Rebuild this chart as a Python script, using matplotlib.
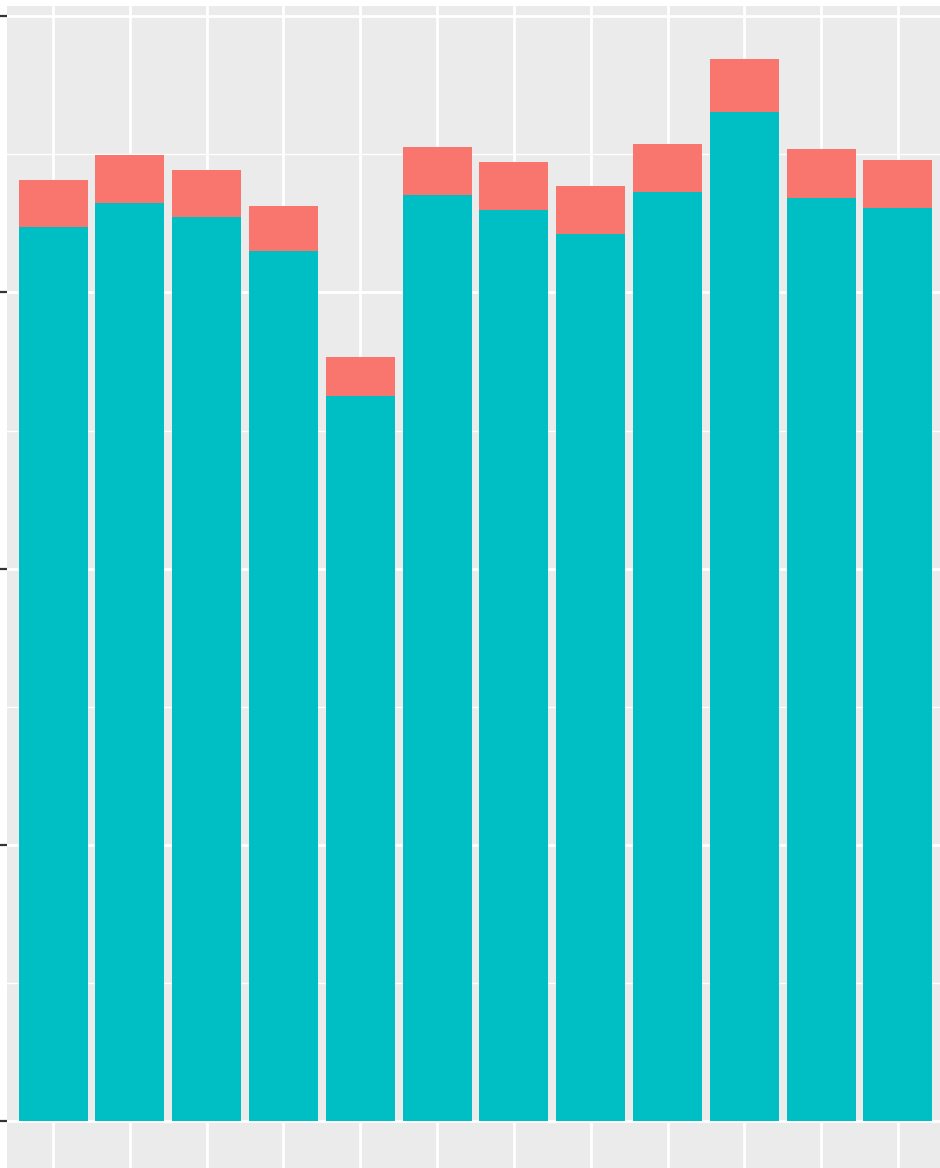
import numpy as np
import matplotlib.pyplot as plt

# bar categories (labels sit outside the visible crop)
groups = list(range(1, 13))
# lower (teal) and upper (red) segments of each stacked bar
base_vals = [323.6, 332.3, 327.2, 314.9, 262.4, 335.2, 329.8, 321.1, 336.3, 365.3, 334.1, 330.5]
top_vals = [17.0, 17.4, 17.0, 16.3, 14.1, 17.4, 17.4, 17.4, 17.4, 19.2, 17.7, 17.4]
y_major = [0, 100, 200, 300, 400]
y_minor = [50, 150, 250, 350]

teal = "#00BFC4"
salmon = "#F8766D"

fig = plt.figure(figsize=(9.4, 11.68), dpi=100)
# panel runs past the right and bottom edges of the picture
ax = fig.add_axes([7 / 940, -6 / 1168, 937 / 940, 1.0])
ax.set_facecolor("#EBEBEB")

x = np.arange(1, len(groups) + 1)
ax.bar(x, base_vals, width=0.9, color=teal, linewidth=0, zorder=3)
ax.bar(x, top_vals, width=0.9, bottom=base_vals, color=salmon, linewidth=0, zorder=3)

totals = np.array(base_vals) + np.array(top_vals)
ymax = totals.max()
ax.set_ylim(-0.05 * ymax, 1.05 * ymax)
ax.set_xlim(0.4, len(groups) + 0.6)

ax.set_xticks(x)
ax.set_yticks(y_major)
ax.set_yticks(y_minor, minor=True)
ax.grid(True, which="major", color="white", linewidth=2.0, zorder=1)
ax.grid(True, which="minor", axis="y", color="white", linewidth=1.0, zorder=1)
ax.set_axisbelow(True)

ax.tick_params(axis="both", which="major", length=5.5, width=1.6, color="#333333",
               labelleft=False, labelbottom=False)
ax.tick_params(axis="y", which="minor", length=0)
for s in ax.spines.values():
    s.set_visible(False)

fig.savefig("out.png", dpi=100, facecolor="white")
